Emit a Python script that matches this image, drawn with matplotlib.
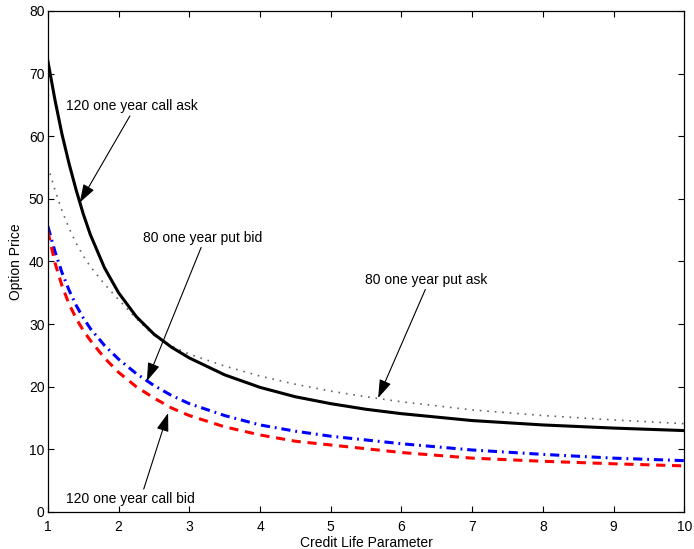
import matplotlib
matplotlib.use("Agg")
import matplotlib.pyplot as plt
from matplotlib.patches import ArrowStyle

plt.rcParams["font.family"] = ["Liberation Sans", "DejaVu Sans"]

# credit life parameter grid
credit_life = [1, 1.1, 1.2, 1.3, 1.4, 1.5, 1.6, 1.8, 2, 2.25, 2.5, 2.75,
               3, 3.5, 4, 4.5, 5, 5.5, 6, 7, 8, 9, 10]

call_ask_120 = [72.0, 65.8, 60.3, 55.6, 51.4, 47.6, 44.3, 39.0, 35.0, 31.2,
                28.4, 26.3, 24.6, 21.9, 19.9, 18.4, 17.3, 16.4, 15.7, 14.6,
                13.9, 13.4, 13.0]
put_ask_80 = [55.2, 51.4, 48.1, 45.3, 42.9, 40.9, 39.2, 36.4, 33.9, 30.9,
              28.2, 26.5, 25.2, 23.3, 21.7, 20.4, 19.3, 18.4, 17.6, 16.3,
              15.4, 14.7, 14.1]
put_bid_80 = [45.6, 41.6, 38.2, 35.4, 33.0, 31.0, 29.3, 26.6, 24.4, 22.1,
              20.2, 18.6, 17.3, 15.4, 13.9, 12.9, 12.1, 11.5, 10.9, 9.9,
              9.2, 8.6, 8.2]
call_bid_120 = [44.8, 39.8, 36.1, 33.2, 30.9, 29.0, 27.4, 24.6, 22.3, 20.0,
                18.2, 16.6, 15.4, 13.6, 12.3, 11.3, 10.7, 10.1, 9.5, 8.6,
                8.1, 7.7, 7.36]

x_ticks = [1, 2, 3, 4, 5, 6, 7, 8, 9, 10]
y_ticks = [0, 10, 20, 30, 40, 50, 60, 70, 80]


def main():
    fig = plt.figure(figsize=(6.94, 5.49), dpi=100)
    ax = fig.add_axes([0.069, 0.0674, 0.917, 0.9126])

    ax.plot(credit_life, put_ask_80, color="#666666", linestyle=(0, (1, 3.5)),
            linewidth=1.2)
    ax.plot(credit_life, call_ask_120, color="black", linestyle="-",
            linewidth=2.2)
    ax.plot(credit_life, put_bid_80, color="blue",
            linestyle=(0, (3, 1.6, 0.6, 1.6)), linewidth=2.2)
    ax.plot(credit_life, call_bid_120, color="red", linestyle=(0, (3, 2.2)),
            linewidth=2.2)

    head = ArrowStyle("-|>", head_length=0.75, head_width=0.25)
    arrow = dict(arrowstyle=head, color="black", lw=0.8,
                 mutation_scale=15, shrinkA=0, shrinkB=0)
    ax.annotate("120 one year call ask", xy=(1.45, 49.4), xytext=(1.25, 64.8),
                fontsize=10, va="center", arrowprops=dict(arrow, relpos=(0.5, 0)))
    ax.annotate("80 one year put bid", xy=(2.40, 20.9), xytext=(2.34, 43.8),
                fontsize=10, va="center", arrowprops=dict(arrow, relpos=(0.5, 0)))
    ax.annotate("80 one year put ask", xy=(5.67, 18.2), xytext=(5.49, 37.1),
                fontsize=10, va="center", arrowprops=dict(arrow, relpos=(0.5, 0)))
    ax.annotate("120 one year call bid", xy=(2.70, 15.8), xytext=(1.25, 2.1),
                fontsize=10, va="center", arrowprops=dict(arrow, relpos=(0.6, 1)))

    ax.set_xlim(1, 10)
    ax.set_ylim(0, 80)
    ax.set_xticks(x_ticks)
    ax.set_yticks(y_ticks)
    ax.tick_params(direction="in", top=True, right=True, length=4,
                   width=0.8, labelsize=10)
    ax.tick_params(axis="x", pad=6)
    ax.tick_params(axis="y", pad=2.5)
    for sp in ax.spines.values():
        sp.set_linewidth(0.9)

    ax.set_xlabel("Credit Life Parameter", fontsize=10, labelpad=1.5)
    ax.set_ylabel("Option Price", fontsize=10, labelpad=4)

    plt.savefig("out.png", dpi=100)
    plt.close()


if __name__ == "__main__":
    main()
